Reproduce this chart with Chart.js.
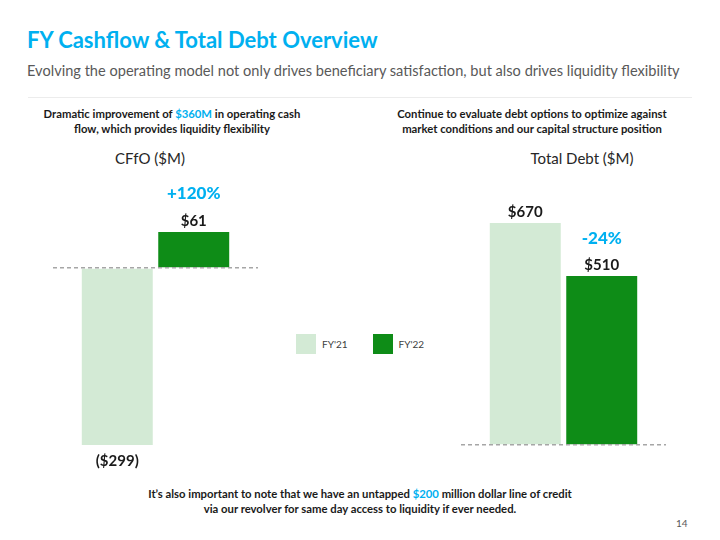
<!DOCTYPE html>
<html>
<head>
<meta charset="utf-8">
<script src="https://cdn.jsdelivr.net/npm/chart.js@4.4.0/dist/chart.umd.min.js"></script>
<style>
  body { margin: 0; background: #fff; }
  #slide { position: relative; width: 720px; height: 540px; overflow: hidden; font-family: Lato, "Open Sans", sans-serif; }
  .abs { position: absolute; }
  #title { left: 27px; top: 26px; font-size: 22px; font-weight: bold; color: #00b0f0; }
  #subtitle { left: 27px; top: 62px; font-size: 14.6px; color: #595959; white-space: nowrap; }
  #rule { left: 28px; top: 97px; width: 664px; height: 1px; background: #ececec; }
  .note { font-size: 11.3px; font-weight: bold; color: #1a1a1a; text-align: center; line-height: 15px; }
  .blue { color: #00b0f0; }
  .ctitle { font-size: 15px; color: #262626; text-align: center; }
  .legend { font-size: 10px; color: #404040; display: flex; align-items: center; }
  .legend span.box { display: inline-block; width: 20px; height: 20px; margin-right: 6px; }
  canvas { position: absolute; }
</style>
</head>
<body>
<div id="slide">
  <div class="abs" id="title">FY Cashflow &amp; Total Debt Overview</div>
  <div class="abs" id="subtitle">Evolving the operating model not only drives beneficiary satisfaction, but also drives liquidity flexibility</div>
  <div class="abs" id="rule"></div>

  <div class="abs note" style="left:22px; top:106px; width:300px;">Dramatic improvement of <span class="blue">$360M</span> in operating cash<br>flow, which provides liquidity flexibility</div>
  <div class="abs note" style="left:372px; top:106px; width:320px;">Continue to evaluate debt options to optimize against<br>market conditions and our capital structure position</div>

  <div class="abs ctitle" style="left:90px; top:149px; width:120px;">CFfO ($M)</div>
  <div class="abs ctitle" style="left:512px; top:149px; width:140px;">Total Debt ($M)</div>

  <div class="abs" id="legend" style="left:296px; top:334px; display:flex;"></div>

  <canvas id="cfo" width="270" height="320" style="left:20px; top:160px;"></canvas>
  <canvas id="debt" width="270" height="320" style="left:428px; top:160px;"></canvas>

  <div class="abs note" style="left:110px; top:486px; width:500px;">It’s also important to note that we have an untapped <span class="blue">$200</span> million dollar line of credit<br>via our revolver for same day access to liquidity if ever needed.</div>
  <div class="abs" style="left:676px; top:517px; font-size:10px; color:#595959;">14</div>
</div>

<script>
// data
const years = ["FY'21", "FY'22"];
const yearColors = ["#d3ead5", "#0e8c17"];
const cfoValues = [-299, 61];
const debtValues = [670, 510];
const cfoChange = "+120%";
const debtChange = "-24%";

function money(v) {
    return v < 0 ? "($" + Math.abs(v) + ")" : "$" + v;
}

// value labels + change label above the FY'22 bar
const labelPlugin = {
    id: "labels",
    afterDraw(chart, args, opts) {
        const ctx = chart.ctx;
        ctx.save();
        ctx.textAlign = "center";
        ctx.textBaseline = "middle";
        chart.data.datasets.forEach((ds, i) => {
            const bar = chart.getDatasetMeta(i).data[0];
            const v = ds.data[0];
            ctx.font = "bold 15px Lato, 'Open Sans', sans-serif";
            ctx.fillStyle = "#1a1a1a";
            let y = v < 0 ? bar.y + 16 : bar.y - 11;
            ctx.fillText(money(v), bar.x, y);
            if (i === 1 && opts.change) {
                ctx.font = "900 17px Lato, 'Open Sans', sans-serif";
                ctx.fillStyle = "#00b0f0";
                ctx.fillText(opts.change, bar.x, y - 27);
            }
        });
        ctx.restore();
    }
};

function makeChart(id, values, min, max, padding, change) {
    return new Chart(document.getElementById(id), {
        type: "bar",
        data: {
            labels: [""],
            datasets: years.map((y, i) => ({
                label: y,
                data: [values[i]],
                backgroundColor: yearColors[i],
                borderWidth: 0,
                categoryPercentage: 0.746,
                barPercentage: 0.928
            }))
        },
        options: {
            responsive: false,
            animation: false,
            layout: { padding: padding },
            plugins: {
                legend: { display: false },
                tooltip: { enabled: false },
                labels: { change: change }
            },
            scales: {
                x: { display: false },
                y: {
                    min: min,
                    max: max,
                    afterBuildTicks: axis => { axis.ticks = [{ value: 0 }]; },
                    ticks: { display: false },
                    border: { display: false, dash: [4, 3] },
                    grid: {
                        z: 1,
                        drawTicks: false,
                        color: "#a6a6a6",
                        lineWidth: 1.5
                    },
                    afterFit: axis => { axis.width = 0; }
                }
            }
        },
        plugins: [labelPlugin]
    });
}

// canvas at (20,160), chart area x 53..258, y 190..445
makeChart("cfo", cfoValues, -299, 132, { left: 33, right: 32, top: 30, bottom: 35 }, cfoChange);
// canvas at (428,160), chart area x 461..666, y 190..445
makeChart("debt", debtValues, 0, 770, { left: 33, right: 32, top: 30, bottom: 35 }, debtChange);

const legend = document.getElementById("legend");
years.forEach((y, i) => {
    const item = document.createElement("div");
    item.className = "legend";
    item.style.marginRight = i === 0 ? "25px" : "0";
    item.innerHTML = '<span class="box" style="background:' + yearColors[i] + '"></span>' + y;
    legend.appendChild(item);
});
</script>
</body>
</html>
